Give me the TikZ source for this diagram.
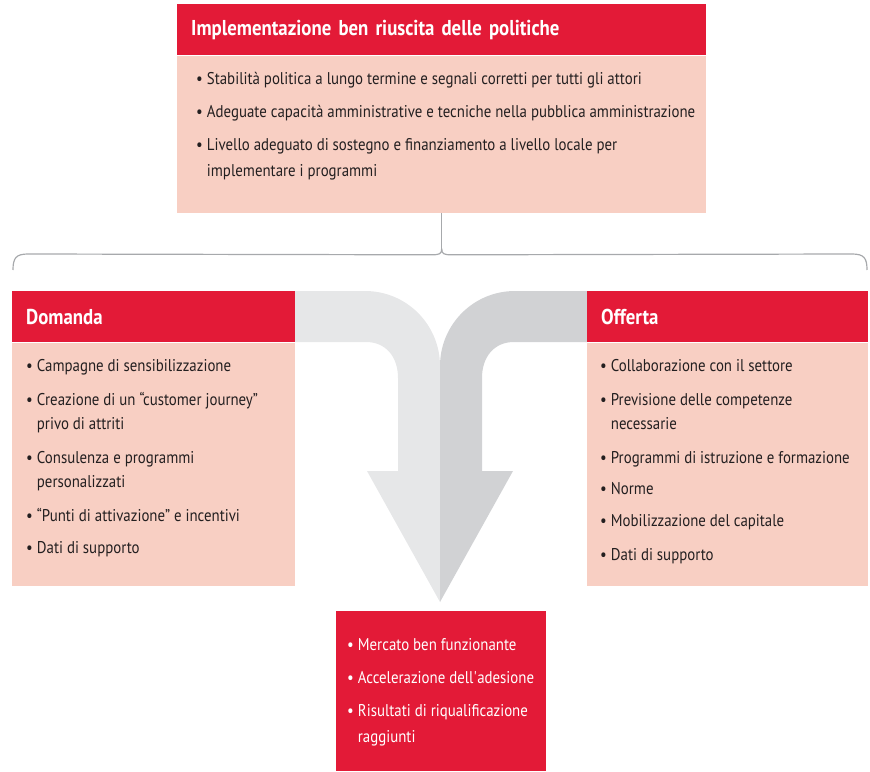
\documentclass[tikz,border=0pt]{standalone}
\usepackage{fontspec}
\setmainfont{PT Sans}[FakeStretch=0.875]
\usetikzlibrary{positioning}

\definecolor{hdred}{RGB}{227,26,55}
\definecolor{bodypink}{RGB}{248,207,195}
\definecolor{arrowlight}{RGB}{230,231,232}
\definecolor{arrowdark}{RGB}{209,210,212}
\definecolor{bracegray}{RGB}{167,169,172}
\definecolor{txtdark}{RGB}{35,31,32}

\newcommand{\bul}{\textbullet\hspace{4pt}}
\newcommand{\cont}{\phantom{\textbullet\hspace{4pt}}}

\begin{document}
\begin{tikzpicture}[x=1pt,y=-1pt,
    head/.style = {
      fill = hdred,
      text = white,
      font = \bfseries\fontsize{21.5}{24}\selectfont,
      anchor = north west,
      inner xsep = 14pt,
      inner ysep = 0pt,
      minimum height = 51pt,
      align = left
    },
    body/.style = {
      fill = bodypink,
      anchor = north west,
      inner sep = 0pt
    },
    items/.style = {
      anchor = north west,
      inner sep = 0pt,
      align = left,
      text = txtdark,
      font = \fontsize{17}{24}\selectfont
    }
  ]
  \useasboundingbox (0,0) rectangle (870,771);

  % the two arms of the arrow
  \fill[arrowlight] (295,291) -- (365,291) .. controls (407,291) and (440,325) .. (440,366)
    -- (440,602) -- (367,471) -- (398,471) -- (398,378)
    .. controls (398,357) and (386,342) .. (366,342) -- (295,342) -- cycle;
  \fill[arrowdark] (587,291) -- (515,291) .. controls (473,291) and (440,325) .. (440,366)
    -- (440,602) -- (513,471) -- (482,471) -- (482,378)
    .. controls (482,357) and (494,342) .. (514,342) -- (587,342) -- cycle;

  % top box
  \node[head, text width=501pt] (tophead) at (177,4) {Implementazione ben riuscita delle politiche};
  \node[body, minimum width=529pt, minimum height=157pt] (topbody) at (tophead.south west) {};
  \node[items, font=\fontsize{17}{26}\selectfont] (toplist) at ([xshift=19pt,yshift=-17pt]topbody.north west) {%
    \bul Stabilità politica a lungo termine e segnali corretti per tutti gli attori\\[7pt]
    \bul Adeguate capacità amministrative e tecniche nella pubblica amministrazione\\[7pt]
    \bul Livello adeguato di sostegno e finanziamento a livello locale per\\
    \cont implementare i programmi};

  % brace
  \coordinate (bracetip) at ([yshift=-36pt]topbody.south);
  \draw[bracegray, line width=1.2pt] (topbody.south) -- (bracetip);
  \draw[bracegray, line width=1.2pt] (bracetip) .. controls +(0,5) and +(8,0) .. ++(-10,6)
    -- (28,254) .. controls (16,254) and (13,258) .. (13,270);
  \draw[bracegray, line width=1.2pt] (bracetip) .. controls +(0,5) and +(-8,0) .. ++(10,6)
    -- (852,254) .. controls (864,254) and (867,258) .. (867,270);

  % demand
  \node[head, text width=255pt] (domhead) at (12,291) {Domanda};
  \node[body, minimum width=283pt, minimum height=243pt] (dombody) at (domhead.south west) {};
  \node[items] (domlist) at ([xshift=14pt,yshift=-17pt]dombody.north west) {%
    \bul Campagne di sensibilizzazione\\[10pt]
    \bul Creazione di un “customer journey”\\
    \cont privo di attriti\\[10pt]
    \bul Consulenza e programmi\\
    \cont personalizzati\\[10pt]
    \bul “Punti di attivazione” e incentivi\\[8pt]
    \bul Dati di supporto};

  % supply
  \node[head, text width=253pt] (offhead) at (587,291) {Offerta};
  \node[body, minimum width=281pt, minimum height=243pt] (offbody) at (offhead.south west) {};
  \node[items] (offlist) at ([xshift=13pt,yshift=-17pt]offbody.north west) {%
    \bul Collaborazione con il settore\\[10pt]
    \bul Previsione delle competenze\\
    \cont necessarie\\[10pt]
    \bul Programmi di istruzione e formazione\\[7pt]
    \bul Norme\\[8pt]
    \bul Mobilizzazione del capitale\\[10pt]
    \bul Dati di supporto};

  % result
  \node[body, fill=hdred, minimum width=210pt, minimum height=160pt] (result) at (336,611) {};
  \node[items, text=white, font=\fontsize{17}{26}\selectfont] (reslist) at ([xshift=11pt,yshift=-27pt]result.north west) {%
    \bul Mercato ben funzionante\\[7pt]
    \bul Accelerazione dell\textquotesingle adesione\\[7pt]
    \bul Risultati di riqualificazione\\
    \cont raggiunti};
\end{tikzpicture}
\end{document}
